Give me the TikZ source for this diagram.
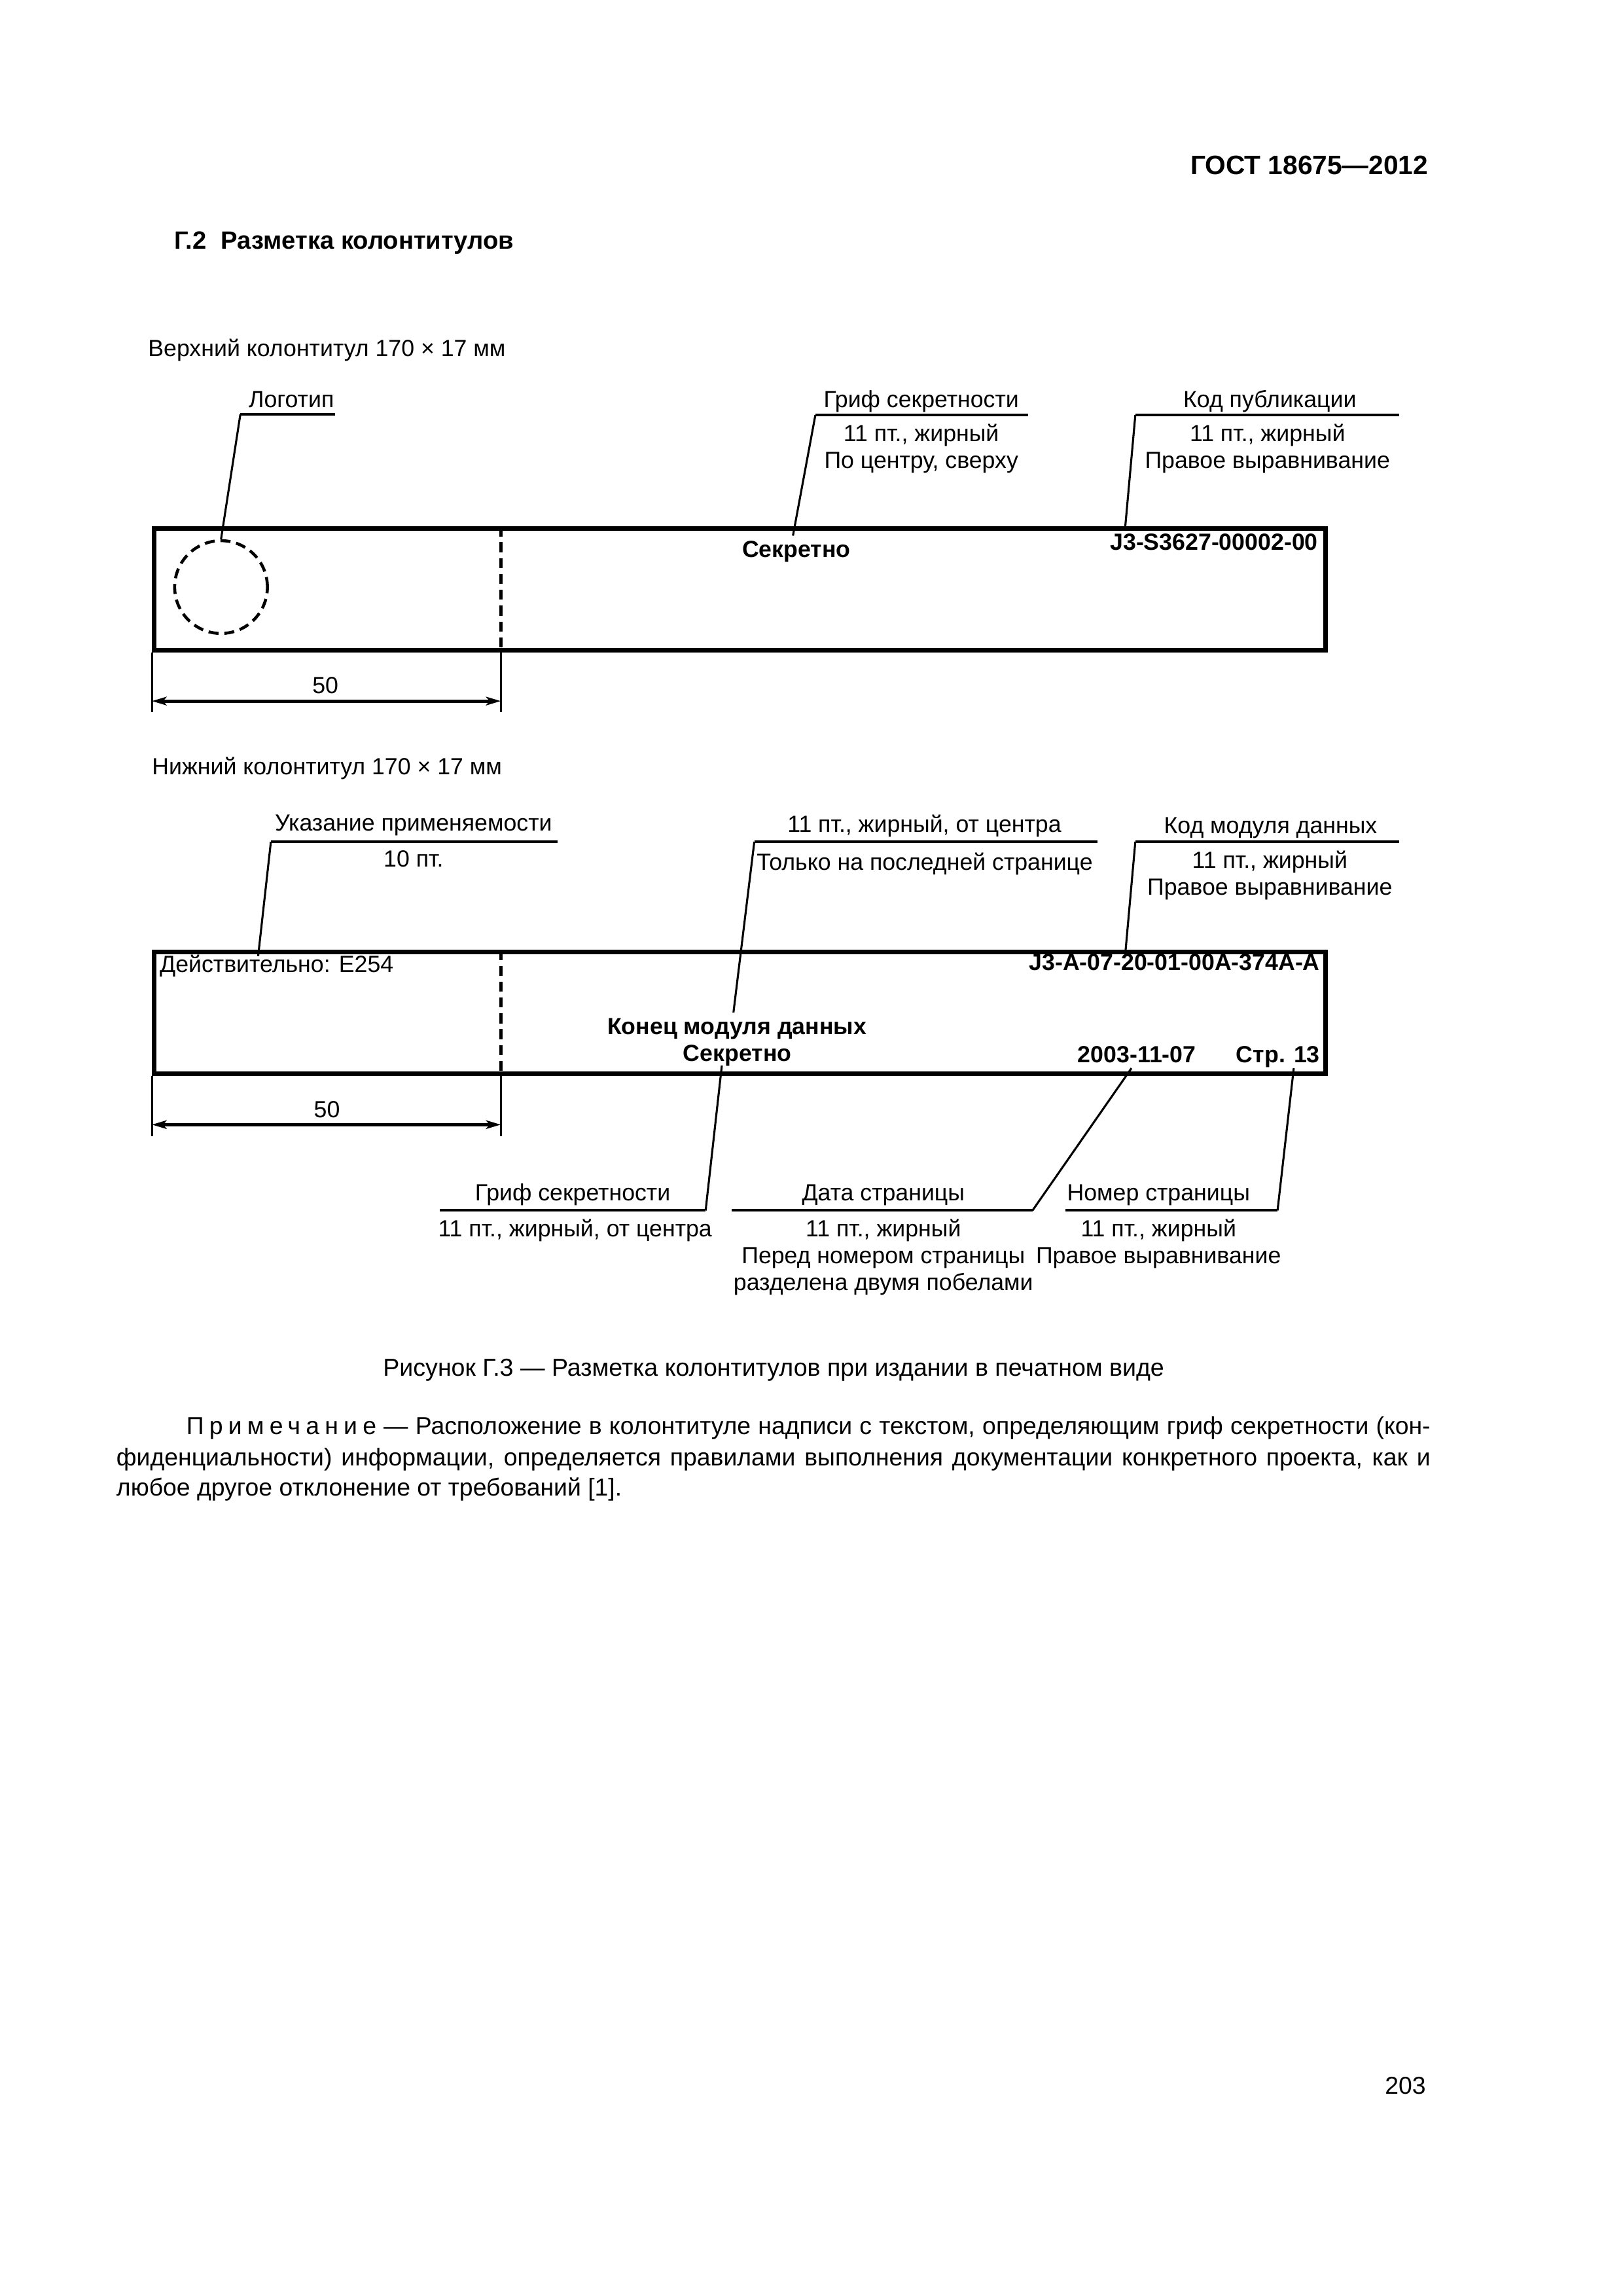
\documentclass[tikz,border=0pt]{standalone}
\usepackage{fontspec}
\setmainfont{Liberation Sans}
\usetikzlibrary{arrows.meta}
\newcommand{\lblsize}{\fontsize{8.6}{9.9}\selectfont}
\newcommand{\headsize}{\fontsize{9.8}{11}\selectfont}
\newcommand{\sectsize}{\fontsize{9.2}{11}\selectfont}
\newcommand{\notesize}{\fontsize{9.0}{11}\selectfont}

\begin{document}
\begin{tikzpicture}[
    x=1mm, y=-1mm,
    frame/.style={draw=black, line width=1.7pt},
    split/.style={draw=black, line width=1.1pt, dash pattern=on 1.3mm off 0.75mm},
    shelf/.style={draw=black, line width=1.0pt},
    lead/.style={draw=black, line width=0.75pt},
    extline/.style={draw=black, line width=0.75pt},
    dimline/.style={draw=black, line width=1.2pt,
                    {Stealth[length=1.9mm, width=1.1mm, inset=0.45mm]}-{Stealth[length=1.9mm, width=1.1mm, inset=0.45mm]}},
    lbl/.style={font=\lblsize, inner sep=0pt},
    lblbf/.style={font=\lblsize\bfseries, inner sep=0pt},
    sub/.style={font=\lblsize, inner sep=0pt, align=center, anchor=north},
    txt/.style={font=\notesize, inner sep=0pt},
  ]
  \useasboundingbox (0,0) rectangle (210,297.05);
  % page head
  \node[lblbf, font=\headsize\bfseries, anchor=base east] (gost) at (184.85,22.55) {ГОСТ 18675—2012};
  \node[lblbf, font=\sectsize\bfseries, anchor=base west] (sect) at (22.5,32.2) {Г.2\hspace{1.9mm}Разметка колонтитулов};
  % upper running head
  \begin{scope}[yshift=-68.1mm]
    \node[lbl, anchor=base west] (toptitle) at (19.1,-22.0) {Верхний колонтитул 170 × 17 мм};
    \node[frame, anchor=north west, inner sep=0pt, minimum width=151.55mm, minimum height=15.7mm] (topbox) at (19.65,0) {};
    \draw[split] (64.8,0) -- (64.8,15.7);
    \node[split, circle, inner sep=0pt, minimum size=12mm] (logo) at (28.6,7.85) {};
    \coordinate (topcut) at (64.8,15.7);
    \coordinate (topdl) at (19.65,22.6);
    \coordinate (topdr) at (64.8,22.6);
    \draw[extline] (topbox.south west) -- (19.65,24.0);
    \draw[extline] (topcut) -- (64.8,24.0);
    \draw[dimline] (topdl) -- (topdr);
    \node[lbl, anchor=base] (topfifty) at (42.1,21.6) {50};
    % logo
    \coordinate (logoa) at (31.1,-14.5);
    \coordinate (logob) at (43.35,-14.5);
    \node[lbl, anchor=base] (logolbl) at (37.7,-15.4) {Логотип};
    \draw[shelf] (logoa) -- (logob);
    \draw[lead] (logoa) -- (logo.north);
    % classification
    \node[lblbf, anchor=base] (topsecret) at (103.05,4.0) {Секретно};
    \coordinate (topsecreta) at (105.5,-14.4);
    \coordinate (topsecretb) at (133.0,-14.4);
    \coordinate (topsecrettip) at (102.6,1.2);
    \node[lbl, anchor=base] (topsecretlbl) at (119.2,-15.35) {Гриф секретности};
    \node[sub] (topsecretsub) at (119.2,-13.3) {11 пт., жирный\\По центру, сверху};
    \draw[shelf] (topsecreta) -- (topsecretb);
    \draw[lead] (topsecreta) -- (topsecrettip);
    % publication code
    \node[lblbf, anchor=base east] (pubcode) at (170.6,3.1) {J3-S3627-00002-00};
    \coordinate (pubcodea) at (146.9,-14.4);
    \coordinate (pubcodeb) at (181.0,-14.4);
    \coordinate (pubcodetip) at (145.6,0);
    \node[lbl, anchor=base] (pubcodelbl) at (164.3,-15.35) {Код публикации};
    \node[sub] (pubcodesub) at (164.0,-13.3) {11 пт., жирный\\Правое выравнивание};
    \draw[shelf] (pubcodea) -- (pubcodeb);
    \draw[lead] (pubcodea) -- (pubcodetip);
  \end{scope}
  % lower running head
  \begin{scope}[yshift=-122.9mm]
    \node[lbl, anchor=base west] (bottitle) at (19.6,-22.7) {Нижний колонтитул 170 × 17 мм};
    \node[frame, anchor=north west, inner sep=0pt, minimum width=151.55mm, minimum height=15.75mm] (botbox) at (19.65,0) {};
    \draw[split] (64.8,0) -- (64.8,15.75);
    \coordinate (botcut) at (64.8,15.75);
    \coordinate (botdl) at (19.65,22.6);
    \coordinate (botdr) at (64.8,22.6);
    \draw[extline] (botbox.south west) -- (19.65,24.1);
    \draw[extline] (botcut) -- (64.8,24.1);
    \draw[dimline] (botdl) -- (botdr);
    \node[lbl, anchor=base] (botfifty) at (42.3,21.65) {50};
    % applicability
    \node[lbl, anchor=base west] (valid) at (20.6,2.9) {Действительно: E254};
    \coordinate (valida) at (35.05,-14.0);
    \coordinate (validb) at (72.15,-14.0);
    \coordinate (validtip) at (33.4,0.8);
    \node[lbl, anchor=base] (validlbl) at (53.5,-15.4) {Указание применяемости};
    \node[sub] (validsub) at (53.5,-12.9) {10 пт.};
    \draw[shelf] (valida) -- (validb);
    \draw[lead] (valida) -- (validtip);
    % end of data module
    \node[lblbf, anchor=base] (endmark) at (95.35,10.9) {Конец модуля данных};
    \node[lblbf, anchor=base] (botsecret) at (95.4,14.4) {Секретно};
    \coordinate (endmarka) at (97.6,-14.0);
    \coordinate (endmarkb) at (142.0,-14.0);
    \coordinate (endmarktip) at (94.9,8.1);
    \node[lbl, anchor=base] (endmarklbl) at (119.6,-15.2) {11 пт., жирный, от центра};
    \node[sub] (endmarksub) at (119.65,-12.6) {Только на последней странице};
    \draw[shelf] (endmarka) -- (endmarkb);
    \draw[lead] (endmarka) -- (endmarktip);
    % data module code
    \node[lblbf, anchor=base east] (dmcode) at (170.85,2.6) {J3-A-07-20-01-00A-374A-A};
    \coordinate (dmcodea) at (146.9,-14.0);
    \coordinate (dmcodeb) at (181.0,-14.0);
    \coordinate (dmcodetip) at (145.6,0.5);
    \node[lbl, anchor=base] (dmcodelbl) at (164.4,-15.1) {Код модуля данных};
    \node[sub] (dmcodesub) at (164.3,-12.9) {11 пт., жирный\\Правое выравнивание};
    \draw[shelf] (dmcodea) -- (dmcodeb);
    \draw[lead] (dmcodea) -- (dmcodetip);
    % date and page
    \node[lblbf, anchor=base] (pagedate) at (147.1,14.6) {2003-11-07};
    \node[lblbf, anchor=base east] (pageno) at (170.85,14.6) {Стр. 13};
    % labels below
    \coordinate (botsecreta) at (56.9,33.7);
    \coordinate (botsecretb) at (91.3,33.7);
    \coordinate (botsecrettip) at (93.4,14.95);
    \node[lbl, anchor=base] (botsecretlbl) at (74.1,32.4) {Гриф секретности};
    \node[sub] (botsecretsub) at (74.4,34.8) {11 пт., жирный, от центра};
    \draw[shelf] (botsecreta) -- (botsecretb);
    \draw[lead] (botsecretb) -- (botsecrettip);
    \coordinate (pagedatea) at (94.7,33.7);
    \coordinate (pagedateb) at (133.6,33.7);
    \coordinate (pagedatetip) at (146.4,15.3);
    \node[lbl, anchor=base] (pagedatelbl) at (114.3,32.4) {Дата страницы};
    \node[sub] (pagedatesub) at (114.3,34.8) {11 пт., жирный\\Перед номером страницы\\разделена двумя побелами};
    \draw[shelf] (pagedatea) -- (pagedateb);
    \draw[lead] (pagedateb) -- (pagedatetip);
    \coordinate (pagenoa) at (137.85,33.7);
    \coordinate (pagenob) at (165.3,33.7);
    \coordinate (pagenotip) at (167.4,15.3);
    \node[lbl, anchor=base] (pagenolbl) at (149.9,32.4) {Номер страницы};
    \node[sub] (pagenosub) at (149.9,34.8) {11 пт., жирный\\Правое выравнивание};
    \draw[shelf] (pagenoa) -- (pagenob);
    \draw[lead] (pagenob) -- (pagenotip);
  \end{scope}
  % caption and note
  \node[txt, font=\fontsize{9.05}{11}\selectfont, anchor=base] (caption) at (100.1,178.0) {Рисунок Г.3 — Разметка колонтитулов при издании в печатном виде};
  \node[txt, anchor=base west] (notea) at (24.05,185.6) {\makebox[160.95mm][s]{{\addfontfeature{LetterSpace=22}Примечание} — Расположение в колонтитуле надписи с текстом, определяющим гриф секретности (кон-}};
  \node[txt, anchor=base west] (noteb) at (15,189.6) {\makebox[170mm][s]{фиденциальности) информации, определяется правилами выполнения документации конкретного проекта, как и}};
  \node[txt, anchor=base west] (notec) at (15,193.5) {любое другое отклонение от требований [1].};
  \node[txt, anchor=base east] (folio) at (184.55,270.95) {203};
\end{tikzpicture}
\end{document}
